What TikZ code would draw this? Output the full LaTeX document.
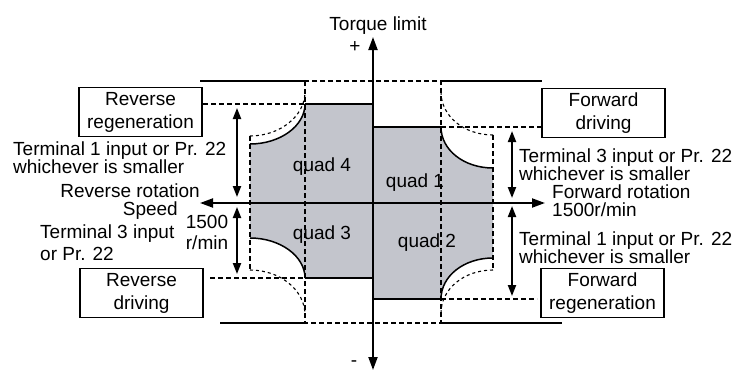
\documentclass[tikz,border=0pt]{standalone}
\usepackage{fontspec}
\setmainfont{Liberation Sans}
\usepackage{tikz}
\usetikzlibrary{arrows.meta}
\definecolor{quadgray}{HTML}{C3C5CC}

\begin{document}
\begin{tikzpicture}[
  x=1pt, y=-1pt,
  lbl/.style={inner sep=0pt, align=left, font=\fontsize{19}{18}\selectfont},
  modebox/.style={
    draw, line width=1.4pt, minimum width=123pt, minimum height=49pt,
    inner sep=0pt, align=center, font=\fontsize{19}{23}\selectfont
  },
  axisarr/.style={line width=2pt, {Triangle[length=13pt,width=9pt]}-{Triangle[length=13pt,width=9pt]}},
  rangearr/.style={line width=2pt, {Triangle[length=11pt,width=8pt]}-{Triangle[length=11pt,width=8pt]}},
  limitline/.style={line width=2pt},
  arcline/.style={line width=1.5pt},
  envdash/.style={line width=1.8pt, dash pattern=on 5pt off 3pt},
  curvedash/.style={line width=1.1pt, dash pattern=on 3pt off 3pt}
]
\useasboundingbox (0,0) rectangle (741,372);

\fill[quadgray] (250,144) .. controls (280,144) and (305,126) .. (305,104) -- (373,104)
  -- (373,278) -- (305,278) .. controls (305,256) and (280,238) .. (250,238) -- cycle;
\fill[quadgray] (373,127) -- (441,127) .. controls (441,150) and (464,168) .. (493,168)
  -- (493,258) .. controls (464,258) and (441,276) .. (441,299) -- (373,299) -- cycle;

\draw[arcline] (250,144) .. controls (280,144) and (305,126) .. (305,104);
\draw[arcline] (305,278) .. controls (305,256) and (280,238) .. (250,238);
\draw[arcline] (441,127) .. controls (441,150) and (464,168) .. (493,168);
\draw[arcline] (493,258) .. controls (464,258) and (441,276) .. (441,299);
\draw[limitline] (305,104) -- (373,104);
\draw[limitline] (305,278) -- (373,278);
\draw[limitline] (373,127) -- (441,127);
\draw[limitline] (373,299) -- (441,299);

\draw[envdash] (305,81) rectangle (441,323);
\draw[envdash] (203,104) -- (305,104);
\draw[envdash] (210,278) -- (305,278);
\draw[envdash] (441,127) -- (542,127);
\draw[envdash] (441,299) -- (537,299);
\draw[envdash] (250,136) -- (250,270);
\draw[envdash] (493,135) -- (493,270);
\draw[curvedash] (250,136) .. controls (280,136) and (305,116) .. (305,92);
\draw[curvedash] (250,270) .. controls (280,270) and (305,290) .. (305,315);
\draw[curvedash] (441,92) .. controls (441,116) and (464,135) .. (493,135);
\draw[curvedash] (493,270) .. controls (464,270) and (441,289) .. (441,313);

\draw[limitline] (200,81) -- (305,81);
\draw[limitline] (441,81) -- (542,81);
\draw[limitline] (220,323) -- (305,323);
\draw[limitline] (441,323) -- (562,323);

\coordinate (tqpos) at (373,37);
\coordinate (tqneg) at (373,370);
\coordinate (spdneg) at (200,203);
\coordinate (spdpos) at (545,203);
\draw[axisarr] (tqneg) -- (tqpos);
\draw[axisarr] (spdneg) -- (spdpos);

\coordinate (rreghi) at (237,108);
\coordinate (rreglo) at (237,197);
\coordinate (rdrvhi) at (237,207);
\coordinate (rdrvlo) at (237,274);
\coordinate (fdrvhi) at (512,131);
\coordinate (fdrvlo) at (512,198);
\coordinate (fregihi) at (512,206);
\coordinate (freglo) at (512,296);
\draw[rangearr] (rreghi) -- (rreglo);
\draw[rangearr] (rdrvhi) -- (rdrvlo);
\draw[rangearr] (fdrvhi) -- (fdrvlo);
\draw[rangearr] (fregihi) -- (freglo);

\node[lbl, anchor=base] (tqlabel) at (378,30) {Torque limit};
\node[lbl] (plus) at (355,47) {+};
\node[lbl] (minus) at (354,364) {-};
\node[lbl, anchor=base east] (revrot) at (200,197) {Reverse rotation};
\node[lbl, anchor=base east] (speed) at (178,215) {Speed};
\node[lbl, align=center, font=\fontsize{19}{21}\selectfont] (revspd) at (207,232) {1500\\r/min};
\node[lbl, anchor=west, font=\fontsize{19}{22}\selectfont] (rdrvlim) at (40,243) {Terminal 3 input\\or Pr. 22};
\node[lbl, anchor=west] (rreglim) at (13,158) {Terminal 1 input or Pr. 22\\whichever is smaller};
\node[lbl, anchor=west] (fdrvlim) at (519,165) {Terminal 3 input or Pr. 22\\whichever is smaller};
\node[lbl, anchor=west] (freglim) at (519,248) {Terminal 1 input or Pr. 22\\whichever is smaller};
\node[lbl, anchor=west] (fwdrot) at (552,201) {Forward rotation\\1500r/min};

\node[modebox, fill=white] (revreg) at (140.5,112) {Reverse\\regeneration};
\node[modebox, fill=white] (revdrv) at (141.5,293) {Reverse\\driving};
\node[modebox, fill=white] (fwddrv) at (603.5,113) {Forward\\driving};
\node[modebox, fill=white] (fwdreg) at (602.5,293) {Forward\\regeneration};

\node[lbl] (quad4) at (322,167) {quad 4};
\node[lbl] (quad3) at (322,235) {quad 3};
\node[lbl] (quad1) at (415,183) {quad 1};
\node[lbl] (quad2) at (427,243) {quad 2};
\end{tikzpicture}
\end{document}
